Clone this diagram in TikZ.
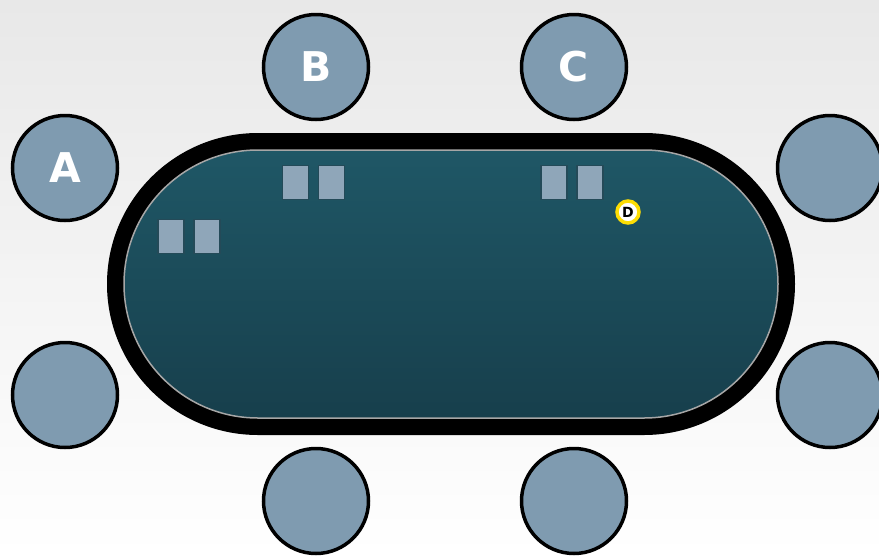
\documentclass[tikz,border=0pt]{standalone}
\usepackage{fontspec}
\setmainfont{DejaVu Sans}
\begin{document}
\begin{tikzpicture}[x=1pt,y=-1pt,
  seat/.style={circle,draw=black,line width=3.5pt,fill=seatblue,minimum size=105pt,inner sep=0pt,text=white,font=\fontsize{41}{43}\selectfont\bfseries},
  card/.style={draw=carddark,line width=1.2pt,fill=cardblue,minimum width=26pt,minimum height=34pt,inner sep=0pt},
  button/.style={circle,draw=yellow!80!orange,line width=3.5pt,fill=white,minimum size=22pt,inner sep=0pt,font=\fontsize{14}{15}\selectfont\bfseries}]
\definecolor{seatblue}{HTML}{7F9BB0}
\definecolor{cardblue}{HTML}{8FA6B9}
\definecolor{carddark}{HTML}{244A58}
\definecolor{felttop}{HTML}{1F5766}
\definecolor{feltbot}{HTML}{173F4C}
\definecolor{bgtop}{HTML}{E8E8E8}
% background
\useasboundingbox (0,0) rectangle (879,555);
\shade[top color=bgtop,bottom color=white] (0,0) rectangle (879,555);
% table rail
\fill[black,rounded corners=151pt] (107,133) rectangle (795,435);
% felt
\shade[top color=felttop,bottom color=feltbot,draw=gray!70,line width=1.5pt,rounded corners=134pt] (124,150) rectangle (778,418);
% seats
\node[seat] (A) at (65,168) {A};
\node[seat] (B) at (316,67) {B};
\node[seat] (C) at (574,67) {C};
\node[seat] (R1) at (830,168) {};
\node[seat] (L2) at (65,395) {};
\node[seat] (R2) at (830,395) {};
\node[seat] (B1) at (316,501) {};
\node[seat] (B2) at (574,501) {};
% cards
\node[card] (a1) at (171,236.5) {};
\node[card] (a2) at (207,236.5) {};
\node[card] (b1) at (295.5,182.5) {};
\node[card] (b2) at (331.5,182.5) {};
\node[card] (c1) at (554,182.5) {};
\node[card] (c2) at (590,182.5) {};
% dealer button
\node[button] (D) at (628,212) {D};
\end{tikzpicture}
\end{document}
